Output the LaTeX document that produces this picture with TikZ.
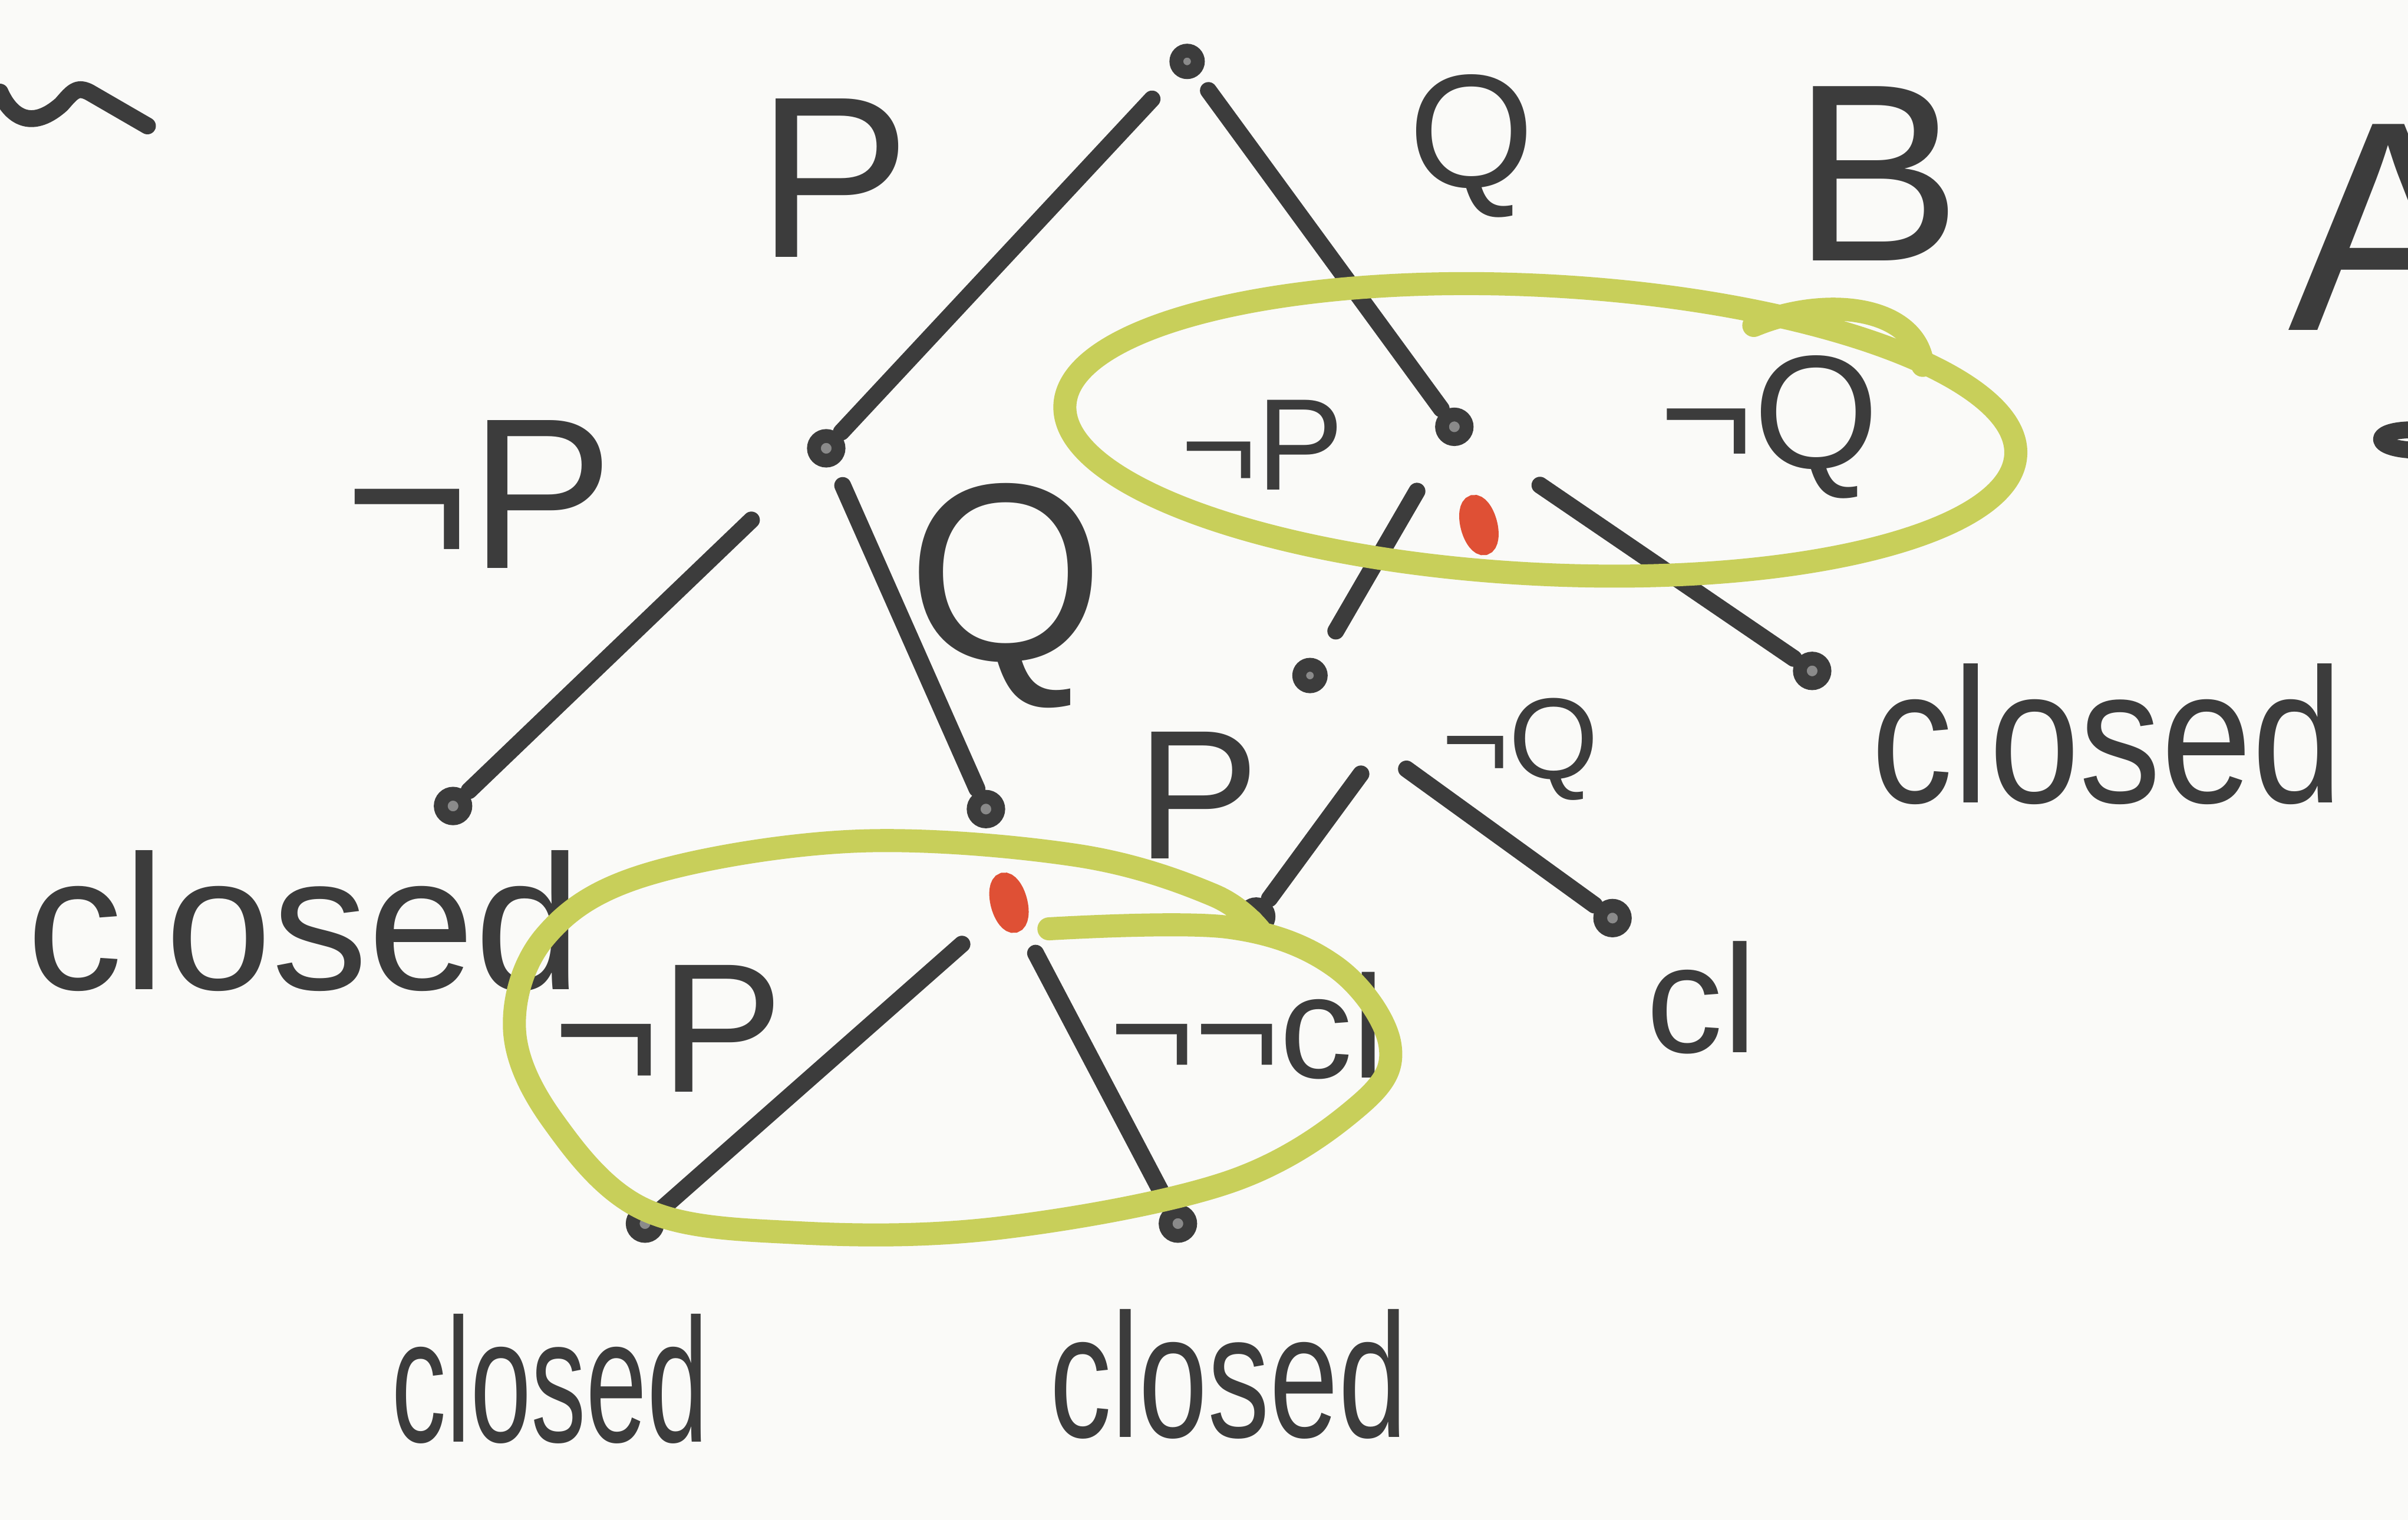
\documentclass[tikz,border=0pt]{standalone}
\usepackage{fontspec}
\setmainfont{Liberation Sans}
\usetikzlibrary{shapes.geometric}
\definecolor{inkc}{HTML}{3C3C3C}
\definecolor{hlc}{HTML}{C8CF5A}
\definecolor{redc}{HTML}{DF5035}
\definecolor{bgc}{HTML}{FAFAF8}
\begin{document}
\begin{tikzpicture}[x=1pt,y=-1pt,
  ink/.style={draw=inkc, line width=11pt, line cap=round, line join=round},
  hl/.style={draw=hlc, line width=15pt, line cap=round, line join=round},
  dotn/.style={circle, draw=inkc, fill=inkc!60, line width=9pt, minimum size=16pt, inner sep=0pt},
  reddot/.style={ellipse, draw=redc, fill=redc!80, line width=12pt, minimum width=12pt, minimum height=28pt, inner sep=0pt, rotate=15},
  lbl/.style={text=inkc, inner sep=0pt, anchor=center}]
\fill[bgc] (0,0) rectangle (1568,990);
\useasboundingbox (0,0) rectangle (1568,990);

% stray strokes at the edges
\draw[ink] (0,60) .. controls (8,78) and (22,84) .. (40,68) .. controls (47,60) and (50,56) .. (58,60) -- (96,82);
\draw[ink] (1568,280) .. controls (1545,281) and (1545,291) .. (1568,293);

% labels
\node[lbl, font=\fontsize{150}{150}\selectfont] (lP) at (543,116) {P};
\node[lbl, font=\fontsize{105}{105}\selectfont] (lQ) at (958,95) {Q};
\node[lbl, font=\fontsize{165}{165}\selectfont] (lB) at (1222,113) {B};
\node[lbl, font=\fontsize{195}{195}\selectfont] (lA) at (1555,148) {A};
\node[lbl, font=\fontsize{140}{140}\selectfont] (lnP) at (312,322) {¬P};
\node[lbl, font=\fontsize{165}{165}\selectfont] (lQ2) at (655,388) {Q};
\node[lbl, font=\fontsize{125}{125}\selectfont] (lcl1) at (198,600) {closed};
\node[lbl, font=\fontsize{120}{120}\selectfont] (lP2) at (780,518) {P};
\node[lbl, font=\fontsize{85}{85}\selectfont] (lnP2) at (822,290) {¬P};
\node[lbl, font=\fontsize{105}{105}\selectfont] (lnQ) at (1152,278) {¬Q};
\node[lbl, font=\fontsize{75}{75}\selectfont] (lnQ2) at (990,488) {¬Q};
\node[lbl, font=\fontsize{125}{125}\selectfont, xscale=0.85] (lcl2) at (1372,478) {closed};
\node[lbl, font=\fontsize{120}{120}\selectfont] (lnP3) at (435,670) {¬P};
\node[lbl, font=\fontsize{95}{95}\selectfont] (lnn) at (812,668) {¬¬cl};
\node[lbl, font=\fontsize{100}{100}\selectfont] (lcl3) at (1108,650) {cl};
\node[lbl, font=\fontsize{115}{115}\selectfont, xscale=0.62] (lcl4) at (358,898) {closed};
\node[lbl, font=\fontsize{115}{115}\selectfont, xscale=0.7] (lcl5) at (800,895) {closed};

% tree nodes
\node[dotn, minimum size=14pt] (root) at (773,40) {};
\node[dotn] (n1) at (538,292) {};
\node[dotn] (n2) at (947,278) {};
\node[dotn] (n1L) at (295,525) {};
\node[dotn] (n1R) at (642,527) {};
\node[dotn, minimum size=14pt] (n2L) at (853,440) {};
\node[dotn] (n2R) at (1180,437) {};
\node[reddot] (red1) at (657,588) {};
\node[reddot] (red2) at (963,342) {};
\node[dotn] (n3L) at (420,797) {};
\node[dotn] (n3R) at (767,797) {};
\node[dotn] (n4L) at (818,597) {};
\node[dotn] (n4R) at (1050,598) {};
\coordinate (j2) at (898,488);

% connectors
\draw[ink, shorten <=22pt, shorten >=2pt] (root) -- (n1);
\draw[ink, shorten <=12pt, shorten >=2pt] (root) -- (n2);
\draw[ink, shorten <=55pt, shorten >=2pt] (n1) -- (n1L);
\draw[ink, shorten <=14pt, shorten >=2pt] (n1) -- (n1R);
\draw[ink, shorten <=28pt, shorten >=2pt] (red1) -- (n3L);
\draw[ink, shorten <=18pt, shorten >=2pt] (red1) -- (n3R);
\draw[ink, shorten <=36pt, shorten >=22pt] (n2) -- (n2L);
\draw[ink, shorten <=55pt, shorten >=2pt] (n2) -- (n2R);
\draw[ink, shorten <=20pt, shorten >=2pt] (j2) -- (n4L);
\draw[ink, shorten <=22pt, shorten >=2pt] (j2) -- (n4R);

% highlight loops
\draw[hl] (1003,280) ellipse [x radius=310, y radius=94, rotate=-3];
\draw[hl] (1142,212) .. controls (1190,192) and (1248,200) .. (1252,238);
\draw[hl] plot[smooth, tension=0.6] coordinates {(683,605) (800,604) (870,630) (905,680) (885,720) (800,770) (650,800) (520,803) (420,788) (360,730) (335,670) (355,610) (420,570) (555,548) (700,557) (790,583) (822,608)};
\end{tikzpicture}
\end{document}
